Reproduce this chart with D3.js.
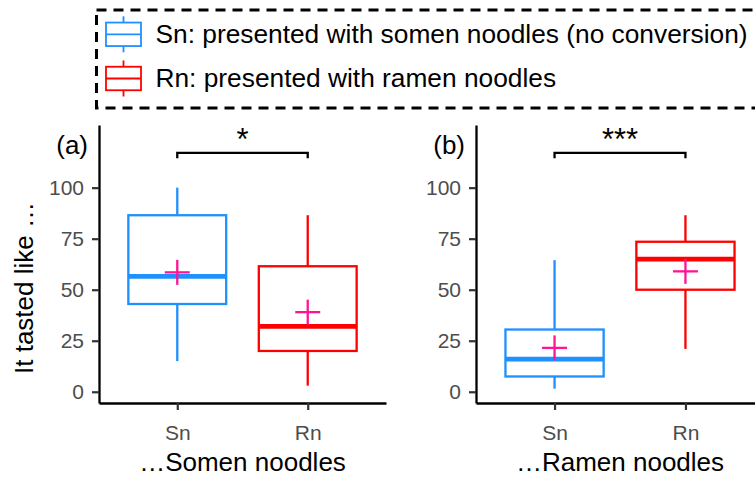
<!DOCTYPE html>
<html>
<head>
<meta charset="utf-8">
<script src="https://cdn.jsdelivr.net/npm/d3@7"></script>
<style>
  html, body { margin: 0; padding: 0; background: #fff; }
  svg { display: block; font-family: "Liberation Sans", Arial, Helvetica, sans-serif; }
</style>
</head>
<body>
<svg id="chart" width="755" height="478"></svg>
<script>
// Groups and their colours
const groups = ["Sn", "Rn"];
const groupColors = ["#1E90FF", "#FF0000"];
const legendLabels = ["Sn: presented with somen noodles (no conversion)", "Rn: presented with ramen noodles"];

// Panels
const panelTags = ["(a)", "(b)"];
const panelTitles = ["\u2026Somen noodles", "\u2026Ramen noodles"];
const panelSignif = ["*", "***"];

// Box statistics per panel, in group order [Sn, Rn]
const whiskerLow = [[15, 3], [1.5, 21]];
const quartile1 = [[43, 20], [7.5, 50]];
const medians = [[56.5, 32], [16, 65]];
const quartile3 = [[86.5, 61.5], [30.5, 73.5]];
const whiskerHigh = [[100, 86.5], [64.5, 86.5]];
const means = [[58.5, 39], [21.5, 59]];

// Axis ticks and bracket height
const yTicks = [0, 25, 50, 75, 100];
const bracketY = 117;
const bracketDrop = 2.6;

const svg = d3.select("#chart");

// Shared vertical scale
const y = d3.scaleLinear().domain([-5.5, 130.7]).range([403, 125]);

// Horizontal extents of each panel
const panelX = [[99, 386], [476, 764]];

const meanColor = "#FF1493";
const tickGrey = "#4D4D4D";
const fontStack = "Liberation Sans, Arial, Helvetica, sans-serif";

panelTags.forEach((tag, p) => {
  const g = svg.append("g");
  const [x0, x1] = panelX[p];
  // discrete positions 1..2 with 0.6 expansion on each side
  const x = d3.scaleLinear().domain([0.4, 2.6]).range([x0, x1]);
  const step = x(2) - x(1);
  const boxW = step * 0.75;

  // Boxes
  groups.forEach((grp, i) => {
    const cx = x(i + 1);
    const col = groupColors[i];
    // whiskers
    g.append("line").attr("x1", cx).attr("x2", cx)
      .attr("y1", y(quartile3[p][i])).attr("y2", y(whiskerHigh[p][i]))
      .attr("stroke", col).attr("stroke-width", 2.3);
    g.append("line").attr("x1", cx).attr("x2", cx)
      .attr("y1", y(quartile1[p][i])).attr("y2", y(whiskerLow[p][i]))
      .attr("stroke", col).attr("stroke-width", 2.3);
    // box
    g.append("rect")
      .attr("x", cx - boxW / 2).attr("width", boxW)
      .attr("y", y(quartile3[p][i])).attr("height", y(quartile1[p][i]) - y(quartile3[p][i]))
      .attr("fill", "#fff").attr("stroke", col).attr("stroke-width", 2.3);
    // median
    g.append("line")
      .attr("x1", cx - boxW / 2).attr("x2", cx + boxW / 2)
      .attr("y1", y(medians[p][i])).attr("y2", y(medians[p][i]))
      .attr("stroke", col).attr("stroke-width", 4.8);
    // mean marker (+)
    const my = y(means[p][i]);
    const hs = 12.5;
    g.append("line").attr("x1", cx - hs).attr("x2", cx + hs).attr("y1", my).attr("y2", my)
      .attr("stroke", meanColor).attr("stroke-width", 2.3);
    g.append("line").attr("x1", cx).attr("x2", cx).attr("y1", my - hs).attr("y2", my + hs)
      .attr("stroke", meanColor).attr("stroke-width", 2.3);
  });

  // Y axis
  const yAxis = d3.axisLeft(y).tickValues(yTicks).tickSize(7).tickPadding(8).tickSizeOuter(0);
  const ya = g.append("g").attr("transform", `translate(${x0},0)`).call(yAxis);
  ya.select(".domain").attr("stroke", "#000").attr("stroke-width", 2.3);
  ya.selectAll(".tick line").attr("stroke", "#333").attr("stroke-width", 2.2);
  ya.selectAll(".tick text").attr("fill", tickGrey).attr("font-size", 21)
    .attr("font-family", fontStack);

  // X axis (categorical)
  const xAxis = d3.axisBottom(x).tickValues([1, 2]).tickFormat((d) => groups[d - 1])
    .tickSize(7).tickPadding(15).tickSizeOuter(0);
  const xa = g.append("g").attr("transform", `translate(0,${y.range()[0]})`).call(xAxis);
  xa.select(".domain").attr("stroke", "#000").attr("stroke-width", 2.3);
  xa.selectAll(".tick line").attr("stroke", "#333").attr("stroke-width", 2.2);
  xa.selectAll(".tick text").attr("fill", tickGrey).attr("font-size", 21)
    .attr("font-family", fontStack);

  // X title
  g.append("text").attr("x", (x0 + x1) / 2).attr("y", 470.5)
    .attr("text-anchor", "middle").attr("font-size", 26).attr("fill", "#000")
    .text(panelTitles[p]);

  // Panel tag
  g.append("text").attr("x", x0 - 11).attr("y", 154)
    .attr("text-anchor", "end").attr("font-size", 26).attr("fill", "#000")
    .text(tag);

  // Significance bracket
  const bx1 = x(1), bx2 = x(2);
  g.append("path")
    .attr("d", `M${bx1},${y(bracketY - bracketDrop)}V${y(bracketY)}H${bx2}V${y(bracketY - bracketDrop)}`)
    .attr("fill", "none").attr("stroke", "#000").attr("stroke-width", 2.3);
  g.append("text").attr("x", (bx1 + bx2) / 2).attr("y", 150)
    .attr("text-anchor", "middle").attr("font-size", 31).attr("fill", "#000")
    .text(panelSignif[p]);
});

// Y axis title
svg.append("text")
  .attr("transform", "translate(33,288) rotate(-90)")
  .attr("text-anchor", "middle").attr("font-size", 26).attr("fill", "#000")
  .text("It tasted like \u2026");

// Legend with dashed frame
const legend = svg.append("g");
legend.append("rect").attr("x", 96.5).attr("y", 10).attr("width", 700).attr("height", 98)
  .attr("fill", "#fff").attr("stroke", "#000").attr("stroke-width", 3)
  .attr("stroke-dasharray", "10,7");

const keyRows = [34.3, 78.5];
groups.forEach((grp, i) => {
  const cy = keyRows[i];
  const col = groupColors[i];
  const kx = 123.5, kw = 35, kh = 23.5;
  legend.append("line").attr("x1", kx).attr("x2", kx).attr("y1", cy - 18).attr("y2", cy + 18)
    .attr("stroke", col).attr("stroke-width", 1.8);
  legend.append("rect").attr("x", kx - kw / 2).attr("y", cy - kh / 2).attr("width", kw).attr("height", kh)
    .attr("fill", "#fff").attr("stroke", col).attr("stroke-width", 1.8);
  legend.append("line").attr("x1", kx - kw / 2).attr("x2", kx + kw / 2).attr("y1", cy).attr("y2", cy)
    .attr("stroke", col).attr("stroke-width", 1.8);
  legend.append("text").attr("x", 155.5).attr("y", cy + 8.3)
    .attr("font-size", 26.3).attr("fill", "#000")
    .text(legendLabels[i]);
});
</script>
</body>
</html>
